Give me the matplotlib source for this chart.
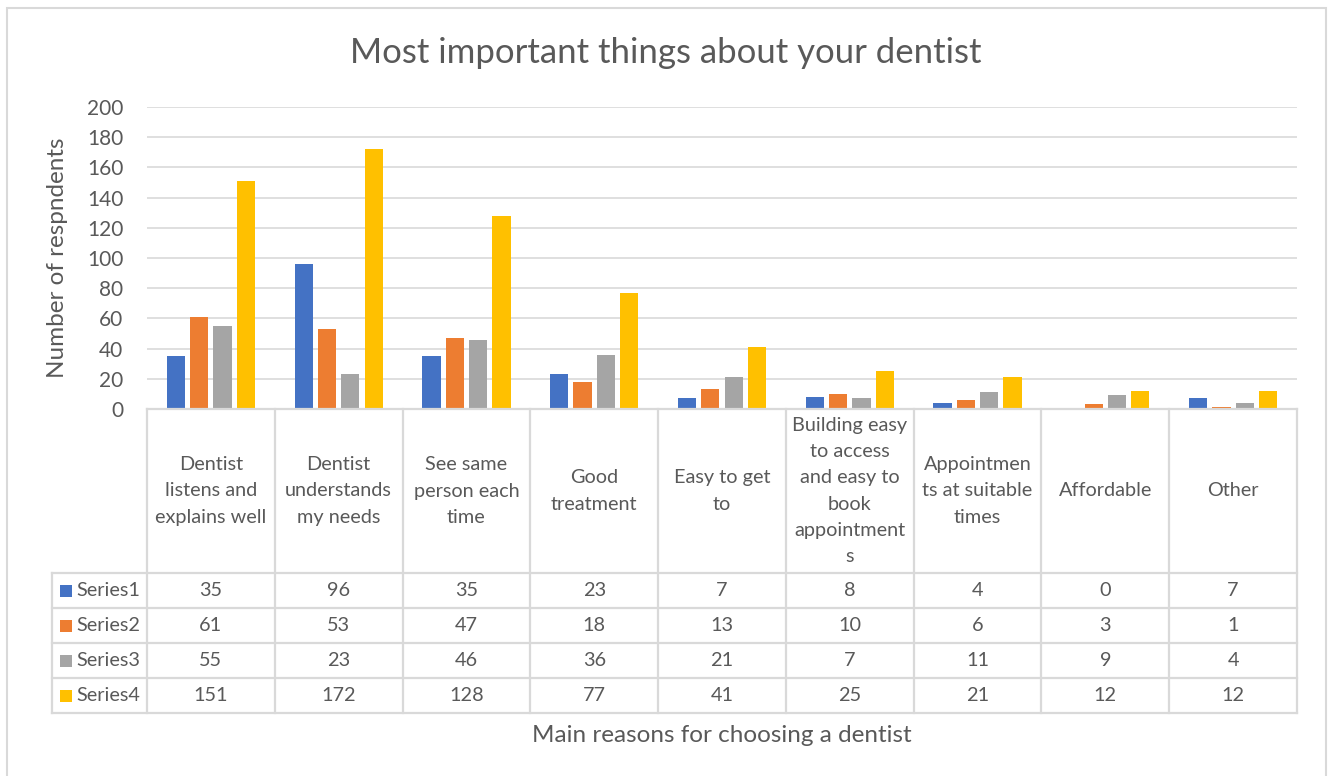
import matplotlib
matplotlib.use("Agg")
import matplotlib.pyplot as plt
from matplotlib.patches import Rectangle

plt.rcParams['font.family'] = ['Lato', 'DejaVu Sans']

# ---- data ----
categories = [
    "Dentist\nlistens and\nexplains well",
    "Dentist\nunderstands\nmy needs",
    "See same\nperson each\ntime",
    "Good\ntreatment",
    "Easy to get\nto",
    "Building easy\nto access\nand easy to\nbook\nappointment\ns",
    "Appointmen\nts at suitable\ntimes",
    "Affordable",
    "Other",
]
series_names = ["Series1", "Series2", "Series3", "Series4"]
series1 = [35, 96, 35, 23, 7, 8, 4, 0, 7]
series2 = [61, 53, 47, 18, 13, 10, 6, 3, 1]
series3 = [55, 23, 46, 36, 21, 7, 11, 9, 4]
series4 = [151, 172, 128, 77, 41, 25, 21, 12, 12]
series_values = [series1, series2, series3, series4]
colors = ["#4472C4", "#ED7D31", "#A5A5A5", "#FFC000"]
yticks = list(range(0, 201, 20))

title = "Most important things about your dentist"
ylabel = "Number of respndents"
xlabel = "Main reasons for choosing a dentist"

TEXT = "#595959"
GRID = "#D9D9D9"
TABLE_FS = 14.3

W, H = 1333, 776
fig = plt.figure(figsize=(W / 100, H / 100), dpi=100)

# outer chart border (its bottom edge runs past the canvas)
fig.patches.append(Rectangle((7 / W, -10 / H), 1319 / W, (H + 10 - 8) / H,
                             transform=fig.transFigure, fill=False,
                             edgecolor=GRID, linewidth=1.5))

# plot area in pixel terms
left, top, right, bottom = 147, 107, 1297, 409
ax = fig.add_axes([left / W, 1 - bottom / H, (right - left) / W, (bottom - top) / H])
n = len(categories)
ax.set_xlim(0, n)
ax.set_ylim(0, 200)
ax.set_yticks(yticks)
ax.set_xticks([])
ax.tick_params(axis='y', length=0, labelsize=15, labelcolor=TEXT, pad=17)
for s in ax.spines.values():
    s.set_visible(False)
ax.grid(axis='y', color=GRID, linewidth=1.2)
ax.set_axisbelow(True)

bar_w = 0.143
step = 0.1825
for k, (vals, col) in enumerate(zip(series_values, colors)):
    xs = [i + 0.5 + (k - 1.5) * step for i in range(n)]
    ax.bar(xs, vals, width=bar_w, color=col, zorder=2)

# ---- data table below the plot ----
plot_h = bottom - top
cat_px = (right - left) / n


def fy(py):
    return (bottom - py) / plot_h


trans = ax.get_xaxis_transform()
row_lines = [573, 608, 643, 678, 713]
legend_left = (52 - left) / cat_px
lw = 1.6
ax.plot([0, n], [fy(409), fy(409)], color=GRID, lw=lw, transform=trans, clip_on=False)
for py in row_lines:
    ax.plot([legend_left, n], [fy(py), fy(py)], color=GRID, lw=lw, transform=trans, clip_on=False)
ax.plot([legend_left, legend_left], [fy(573), fy(713)], color=GRID, lw=lw, transform=trans, clip_on=False)
for i in range(n + 1):
    ax.plot([i, i], [fy(409), fy(713)], color=GRID, lw=lw, transform=trans, clip_on=False)

for i, cat in enumerate(categories):
    ax.text(i + 0.5, fy(491), cat, transform=trans, ha='center', va='center',
            fontsize=TABLE_FS, color=TEXT, linespacing=1.66, clip_on=False)

for r, (name, vals, col) in enumerate(zip(series_names, series_values, colors)):
    yc = fy((row_lines[r] + row_lines[r + 1]) / 2)
    sq = 12 / cat_px
    x0 = (60 - left) / cat_px
    ax.add_patch(Rectangle((x0, yc - 6 / plot_h), sq, 12 / plot_h, transform=trans,
                           facecolor=col, edgecolor='none', clip_on=False))
    ax.text((76 - left) / cat_px, yc, name, transform=trans, ha='left', va='center',
            fontsize=TABLE_FS, color=TEXT, clip_on=False)
    for i, v in enumerate(vals):
        ax.text(i + 0.5, yc, str(v), transform=trans, ha='center', va='center',
                fontsize=TABLE_FS, color=TEXT, clip_on=False)

# titles
fig.text(666 / W, 1 - 53 / H, title, ha='center', va='center', fontsize=25, color=TEXT)
fig.text(58 / W, 1 - 258 / H, ylabel, ha='center', va='center', rotation=90,
         fontsize=17.5, color=TEXT)
fig.text(722 / W, 1 - 735 / H, xlabel, ha='center', va='center', fontsize=17.5, color=TEXT)

fig.savefig("out.png", dpi=100, facecolor="white")
